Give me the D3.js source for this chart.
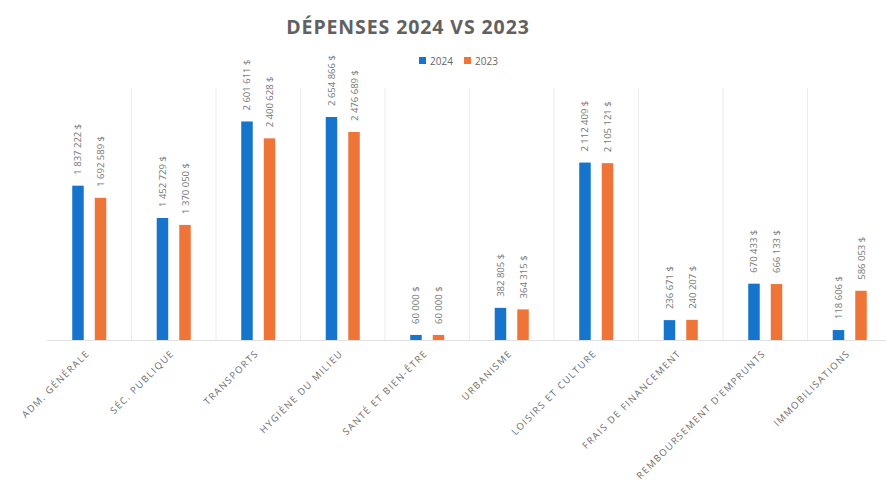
<!DOCTYPE html>
<html><head><meta charset="utf-8">
<script src="https://cdn.jsdelivr.net/npm/d3@7/dist/d3.min.js"></script>
<style>body{margin:0;background:#fff}svg{display:block}</style>
</head><body>
<svg id="c" width="886" height="486"></svg>
<script>
const categories = ["ADM. GÉNÉRALE","SÉC. PUBLIQUE","TRANSPORTS","HYGIÈNE DU MILIEU","SANTÉ ET BIEN-ÊTRE","URBANISME","LOISIRS ET CULTURE","FRAIS DE FINANCEMENT","REMBOURSEMENT D'EMPRUNTS","IMMOBILISATIONS"];
const values2024 = [1837222,1452729,2601611,2654866,60000,382805,2112409,236671,670433,118606];
const values2023 = [1692589,1370050,2400628,2476689,60000,364315,2105121,240207,666133,586053];
const seriesNames = ["2024","2023"];
const colors = ["#1674CC","#EE7437"];

const svg = d3.select("#c");
const mLeft = 47, mRight = 892, mTop = 88, mBottom = 340;
const x0 = d3.scaleBand().domain(categories).range([mLeft, mRight]).padding(0);
const x1 = d3.scaleBand().domain(seriesNames).range([0, x0.bandwidth()]).paddingInner(0.49).paddingOuter(1.12);
const y = d3.scaleLinear().domain([0, 3000000]).range([mBottom, mTop]);
const fmt = v => d3.format(",")(v).replace(/,/g, " ") + " $";

// vertical separators
const seps = svg.append("g");
categories.forEach((c, i) => {
  if (i === 0) return;
  seps.append("line").attr("x1", x0(c)).attr("x2", x0(c)).attr("y1", y(3000000)).attr("y2", y(0))
    .attr("stroke", "#ececec").attr("stroke-width", 1);
});
seps.append("line").attr("x1", mLeft).attr("x2", mRight).attr("y1", y(0)+0.5).attr("y2", y(0)+0.5)
  .attr("stroke", "#e2e2e2");

const data = categories.map((c, i) => ({c, vals: [values2024[i], values2023[i]]}));
const g = svg.append("g").selectAll("g").data(data).join("g")
  .attr("transform", d => `translate(${x0(d.c)},0)`);
g.selectAll("rect").data(d => d.vals.map((v, j) => ({v, s: seriesNames[j], j}))).join("rect")
  .attr("x", d => x1(d.s)).attr("width", x1.bandwidth())
  .attr("y", d => y(d.v)).attr("height", d => y(0) - y(d.v))
  .attr("fill", d => colors[d.j]);
g.selectAll("text").data(d => d.vals.map((v, j) => ({v, s: seriesNames[j]}))).join("text")
  .attr("transform", d => `translate(${x1(d.s) + x1.bandwidth()/2 + 3.5},${y(d.v) - 11}) rotate(-90)`)
  .attr("font-family", "Open Sans, sans-serif").attr("font-size", 9.5).attr("fill", "#767676")
  .text(d => fmt(d.v));

// category labels
const xa = svg.append("g").attr("transform", `translate(0,${y(0)})`)
  .call(d3.axisBottom(x0).tickSize(0).tickPadding(0));
xa.select(".domain").remove();
xa.selectAll("text")
  .attr("font-family", "Open Sans, sans-serif").attr("font-size", 9.5).attr("fill", "#6b6b6b")
  .attr("letter-spacing", 1.4)
  .attr("text-anchor", "end").attr("dy", 0)
  .attr("transform", "translate(1,14) rotate(-45)");

// title
svg.append("text").attr("x", 408).attr("y", 34).attr("text-anchor", "middle")
  .attr("font-family", "Open Sans, sans-serif").attr("font-weight", "bold").attr("font-size", 19.5)
  .attr("letter-spacing", 0.9).attr("fill", "#616161").text("DÉPENSES 2024 VS 2023");

// legend
const lg = svg.append("g").attr("transform", "translate(419,57)");
const lx = [0, 45];
seriesNames.forEach((s, i) => {
  lg.append("rect").attr("x", lx[i]).attr("y", 0).attr("width", 7).attr("height", 7).attr("fill", colors[i]);
  lg.append("text").attr("x", lx[i] + 11).attr("y", 7.5)
    .attr("font-family", "Open Sans, sans-serif").attr("font-size", 10).attr("fill", "#666666").text(s);
});
</script>
</body></html>
